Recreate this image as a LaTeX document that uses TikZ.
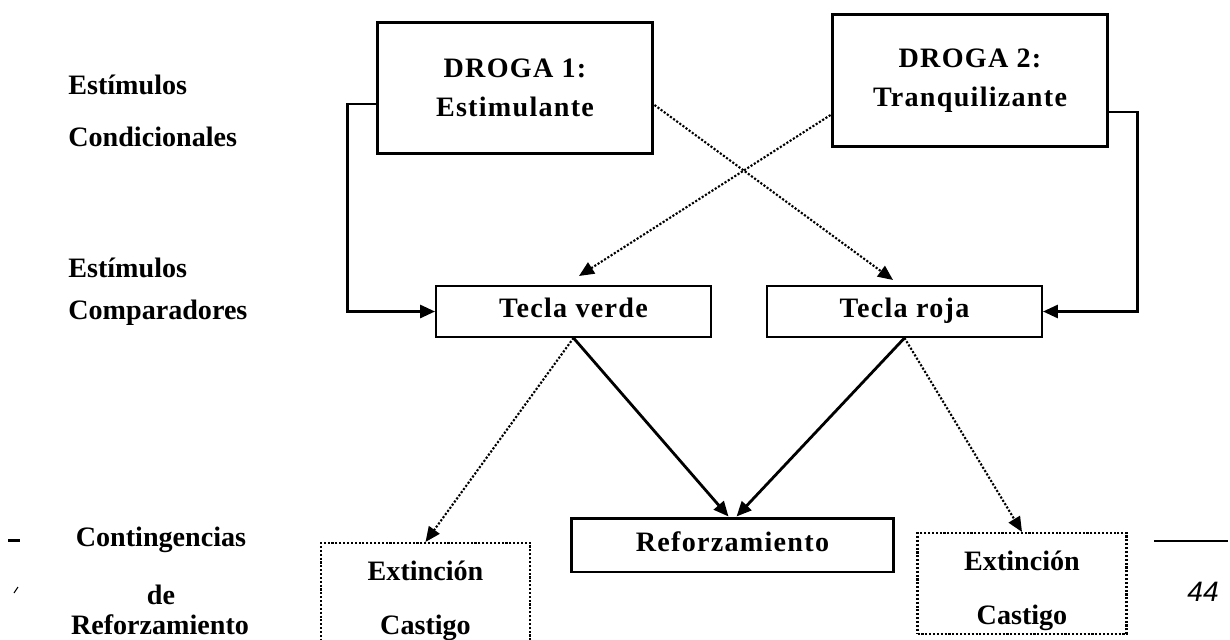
\documentclass[tikz,border=0pt]{standalone}
\usepackage{fontspec}
\setmainfont{Liberation Serif}
\newfontfamily\cajafont{Liberation Serif}[LetterSpace=4.5]
\newfontfamily\pagefont{Liberation Sans}
\usetikzlibrary{arrows.meta,positioning}

\begin{document}
\begin{tikzpicture}[x=0.02cm,y=-0.02cm,
    font=\fontsize{16}{19}\selectfont\bfseries,
    etiqueta/.style={anchor=west,inner sep=0pt},
    droga/.style={draw,line width=1.7pt,minimum width=5.52cm,minimum height=2.64cm,inner sep=0pt,align=center,font=\fontsize{16}{19}\selectfont\cajafont\bfseries},
    tecla/.style={draw,line width=1.1pt,minimum width=5.5cm,minimum height=1.02cm,inner sep=0pt,text height=11pt,text depth=4pt,font=\fontsize{16}{19}\selectfont\cajafont\bfseries},
    refuerzo/.style={draw,line width=1.7pt,minimum width=6.46cm,minimum height=1.08cm,inner sep=0pt,text height=11pt,text depth=4pt,font=\fontsize{16}{19}\selectfont\cajafont\bfseries},
    castigo/.style={draw,densely dotted,line width=1.2pt,minimum width=4.18cm,minimum height=2.02cm,inner sep=0pt,align=center,text height=50pt,text depth=3pt},
    conn/.style={line width=1.6pt,-{Triangle[length=0.3cm,width=0.26cm]}},
    punteada/.style={densely dotted,line width=1.2pt,-{Triangle[length=0.3cm,width=0.26cm]}}]

            \useasboundingbox (0,0) rectangle (1230,639);

            % etiquetas de la izquierda
            \node (ec1) at (68,85) [etiqueta] {Estímulos};
            \node (ec2) at (68,137) [etiqueta] {Condicionales};
            \node (cp1) at (68,268) [etiqueta] {Estímulos};
            \node (cp2) at (68,313) [etiqueta] {Comparadores};
            \node (cr1) at (161,540) [anchor=center] {Contingencias};
            \node (cr2) at (161,595) [anchor=center] {de};
            \node (cr3) at (160,625) [anchor=center] {Reforzamiento};

            % cajas
            \node (d1) at (515,88) [droga] {DROGA 1:\\[3pt]Estimulante};
            \node (d2) at (970,80.5) [droga] {DROGA 2:\\[3pt]Tranquilizante};
            \node (verde) at (573.5,311.5) [tecla] {Tecla verde};
            \node (roja) at (904.5,311.5) [tecla] {Tecla roja};
            \node (ref) at (732.5,545) [refuerzo] {Reforzamiento};
            \node (ext1) at (425.5,593.5) [castigo] {Extinción\\[12pt]Castigo};
            \node (ext2) at (1022,583.5) [castigo] {Extinción\\[12pt]Castigo};

            \coordinate (verdetip) at (579,276);
            \coordinate (rojatip) at (893,280);

            % conexiones
            \draw[conn] ([yshift=-0.32cm]d1.west) -- ++(-28,0) |- (verde.west);
            \draw[conn] ([yshift=-0.63cm]d2.east) -- ++(28,0) |- (roja.east);
            \draw[punteada] ([yshift=-0.34cm]d1.east) -- (rojatip);
            \draw[punteada] ([yshift=-0.69cm]d2.west) -- (verdetip);
            \draw[conn] (verde.south) -- ([xshift=-0.08cm]ref.north);
            \draw[conn] (roja.south) -- ([xshift=0.08cm]ref.north);
            \draw[punteada] (verde.south) -- (ext1.north);
            \draw[punteada] (roja.south) -- (ext2.north);

            % restos del margen de la pagina
            \draw[line width=1.7pt] (8,540) -- (20,540);
            \draw[line width=0.6pt] (14,593) -- (18,587);
            \draw[line width=1.2pt] (1154,541) -- (1228,541);
            \node (pag) at (1203,592) [font=\fontsize{16}{19}\selectfont\pagefont\itshape] {44};

        \end{tikzpicture}
\end{document}
